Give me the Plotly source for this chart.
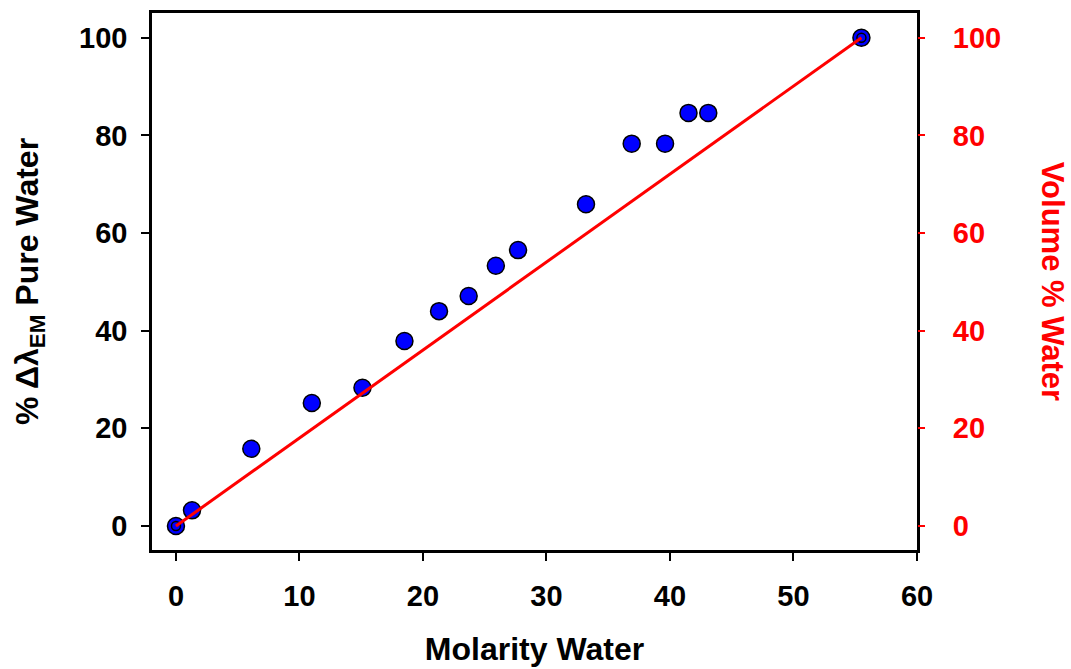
import plotly.graph_objects as go

# Measured emission shift vs. water molarity
molarity = [0, 1.3, 6.1, 11.0, 15.1, 18.5, 21.3, 23.7, 25.9, 27.7, 33.2, 36.9, 39.6, 41.5, 43.1, 55.5]
pct_shift = [0, 3.2, 15.8, 25.2, 28.3, 37.9, 44.0, 47.1, 53.3, 56.5, 65.9, 78.3, 78.3, 84.6, 84.6, 100]

# Volume percent of water (right axis)
vol_molarity = [0, 55.5]
vol_pct = [0, 100]

x_ticks = [0, 10, 20, 30, 40, 50, 60]
y_ticks = [0, 20, 40, 60, 80, 100]

FONT = "Arial, 'Liberation Sans', sans-serif"
FS = 29      # tick labels
FT = 32      # axis titles

fig = go.Figure()

fig.add_trace(go.Scatter(
    x=molarity, y=pct_shift, mode="markers",
    marker=dict(size=17, color="#0000FF", line=dict(color="black", width=1.5)),
    showlegend=False,
))

fig.add_trace(go.Scatter(
    x=vol_molarity, y=vol_pct, mode="markers", yaxis="y2",
    marker=dict(size=9, color="#0000FF", line=dict(color="black", width=1.5)),
    showlegend=False,
))

fig.add_trace(go.Scatter(
    x=vol_molarity, y=vol_pct, mode="lines", yaxis="y2",
    line=dict(color="#FF0000", width=3),
    showlegend=False,
))

axis_common = dict(
    showgrid=False, zeroline=False, showline=True,
    linecolor="black", linewidth=2.5,
    ticks="outside", ticklen=8, tickwidth=2, tickcolor="black",
    automargin=False,
)

fig.update_layout(
    width=1071, height=669,
    margin=dict(l=152, r=154, t=13, b=119),
    plot_bgcolor="white", paper_bgcolor="white",
    font=dict(family=FONT, size=FS, color="black"),
    xaxis=dict(
        **axis_common, mirror=True,
        range=[-1.94, 60], tickvals=x_ticks,
        tickfont=dict(family=FONT, size=FS, color="black", weight="bold"),
        ticklabelstandoff=10,
        title=dict(text="<b>Molarity Water</b>", standoff=28,
                   font=dict(family=FONT, size=FT, color="black")),
    ),
    yaxis=dict(
        **axis_common, mirror=True,
        range=[-4.92, 105.06], tickvals=y_ticks,
        tickfont=dict(family=FONT, size=FS, color="black", weight="bold"),
        ticklabelstandoff=8,
        title=dict(text="<b>% Δλ<sub>EM</sub> Pure Water</b>", standoff=31,
                   font=dict(family=FONT, size=FT, color="black")),
    ),
    yaxis2=dict(
        overlaying="y", side="right",
        range=[-4.92, 105.06], tickvals=y_ticks,
        showgrid=False, zeroline=False, showline=False,
        ticks="outside", ticklen=7, tickwidth=1.5, tickcolor="#FF0000",
        tickfont=dict(family=FONT, size=FS, color="#FF0000", weight="bold"),
        ticklabelstandoff=22, automargin=False,
    ),
    annotations=[dict(
        text="<b>Volume % Water</b>", textangle=90,
        xref="paper", yref="paper", x=1.1775, y=0.5,
        xanchor="center", yanchor="middle", showarrow=False,
        font=dict(family=FONT, size=FT - 1, color="#FF0000"),
    )],
)

fig.write_html("out.html")
